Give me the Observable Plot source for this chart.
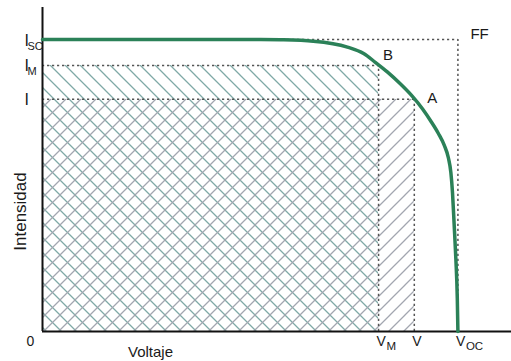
<!DOCTYPE html>
<html><head><meta charset="utf-8">
<script src="https://cdn.jsdelivr.net/npm/d3@7"></script>
<script src="https://cdn.jsdelivr.net/npm/@observablehq/plot@0.6"></script>
<style>body{margin:0;background:#fff}</style>
</head><body><div id="chart"></div>
<script>
// I-V curve of a solar cell (arbitrary units: Voc = 100, Isc = 100)
const curveV = [0, 38, 52.5, 57.3, 65.2, 73.4, 77.3, 80.1, 83.0, 86.0, 89.0, 91.5, 93.5, 95.3, 96.7, 97.7, 98.3, 98.7, 99.1, 99.5, 99.85, 100];
const curveI = [100, 100, 100, 99.9, 99.4, 97.4, 95.2, 92.2, 88.9, 85.0, 80.6, 76.2, 72.0, 67.8, 63.8, 59.5, 54.5, 47.5, 36.5, 25.0, 11.5, 0];
const Voc = 100, Isc = 100;
const VM = 80.9, IM = 91.1;     // max power point B
const Vop = 89.5, Iop = 79.5;   // operating point A
const yTickValues = [Isc, IM, Iop];
const yTickMain = ["I", "I", "I"];
const yTickSub = ["SC", "M", ""];
const xTickValues = [VM, Vop, Voc];
const xTickMain = ["V", "V", "V"];
const xTickSub = ["M", "", "OC"];
const pointNames = ["B", "A", "FF"];
const pointV = [VM, Vop, Voc];
const pointI = [IM, Iop, Isc];

const curve = curveV.map((v, k) => ({v, i: curveI[k]}));
const yTicks = yTickValues.map((y, k) => ({y, main: yTickMain[k], sub: yTickSub[k]}));
const xTicks = xTickValues.map((x, k) => ({x, main: xTickMain[k], sub: xTickSub[k]}));
const pts = pointNames.map((n, k) => ({n, v: pointV[k], i: pointI[k]}));

const dotted = {stroke: "#555", strokeWidth: 1.5, strokeDasharray: "2.2,2.8"};
const txt = "#1a1a1a";

const plot = Plot.plot({
  width: 511, height: 361,
  marginLeft: 42, marginRight: 0, marginTop: 7, marginBottom: 30,
  x: {domain: [0, 112.9], axis: null},
  y: {domain: [0, 110.96], axis: null},
  style: {fontFamily: "'Liberation Sans', Arial, sans-serif", background: "white"},
  marks: [
    Plot.rect([{x1: 0, x2: VM, y1: 0, y2: IM}], {x1: "x1", x2: "x2", y1: "y1", y2: "y2", fill: "url(#hatchBack)"}),
    Plot.rect([{x1: 0, x2: Vop, y1: 0, y2: Iop}], {x1: "x1", x2: "x2", y1: "y1", y2: "y2", fill: "url(#hatchFwd)"}),
    // dashed guides
    Plot.ruleY([Isc], {x1: 0, x2: Voc, ...dotted}),
    Plot.ruleX([Voc], {y1: 0, y2: Isc, ...dotted}),
    Plot.ruleY([IM], {x1: 0, x2: VM, ...dotted}),
    Plot.ruleX([VM], {y1: 0, y2: IM, ...dotted}),
    Plot.ruleY([Iop], {x1: 0, x2: Vop, ...dotted}),
    Plot.ruleX([Vop], {y1: 0, y2: Iop, ...dotted}),
    // axes
    Plot.ruleX([0], {stroke: "#111", strokeWidth: 2}),
    Plot.ruleY([0], {stroke: "#111", strokeWidth: 2}),
    // curve
    Plot.line(curve, {x: "v", y: "i", curve: "monotone-x", stroke: "#2b8158", strokeWidth: 3.5}),
    // y tick labels
    Plot.text(yTicks, {x: 0, y: "y", text: "main", textAnchor: "start", lineAnchor: "bottom", dx: -18, dy: 6, fontSize: 16, fill: txt}),
    Plot.text(yTicks, {x: 0, y: "y", text: "sub", textAnchor: "start", lineAnchor: "bottom", dx: -15, dy: 10, fontSize: 11, fill: txt}),
    // x tick labels
    Plot.text(xTicks, {x: "x", y: 0, text: "main", textAnchor: "start", lineAnchor: "bottom", dx: -2, dy: 14, fontSize: 14, fill: txt}),
    Plot.text(xTicks, {x: "x", y: 0, text: "sub", textAnchor: "start", lineAnchor: "bottom", dx: 8, dy: 18, fontSize: 11.5, fill: txt}),
    Plot.text(["0"], {x: 0, y: 0, textAnchor: "middle", lineAnchor: "bottom", dx: -12, dy: 14, fontSize: 14, fill: txt}),
    // point labels
    Plot.text(pts.filter(d => d.n === "B"), {x: "v", y: "i", text: "n", textAnchor: "start", lineAnchor: "bottom", dx: 4.5, dy: -5, fontSize: 15, fill: txt}),
    Plot.text(pts.filter(d => d.n === "A"), {x: "v", y: "i", text: "n", textAnchor: "start", lineAnchor: "bottom", dx: 13, dy: 4, fontSize: 15, fill: txt}),
    Plot.text(pts.filter(d => d.n === "FF"), {x: "v", y: "i", text: "n", textAnchor: "start", lineAnchor: "bottom", dx: 12.5, dy: -1, fontSize: 15, fill: txt}),
    // axis titles
    Plot.text(["Voltaje"], {frameAnchor: "bottom", textAnchor: "middle", lineAnchor: "bottom", dx: -126.5, dy: 25, fontSize: 15, fill: txt}),
    Plot.text(["Intensidad"], {frameAnchor: "left", rotate: -90, textAnchor: "middle", lineAnchor: "bottom", dx: -17, dy: 42, fontSize: 17, fill: txt})
  ]
});

const defs = d3.select(plot).insert("defs", ":first-child");
const back = defs.append("pattern").attr("id", "hatchBack").attr("patternUnits", "userSpaceOnUse").attr("width", 15).attr("height", 15);
back.append("path").attr("d", "M0,0L15,15M-1,14L1,16M14,-1L16,1").attr("stroke", "#7fa9a6").attr("stroke-width", 1.3).attr("fill", "none");
const fwd = defs.append("pattern").attr("id", "hatchFwd").attr("patternUnits", "userSpaceOnUse").attr("width", 15).attr("height", 15);
fwd.append("path").attr("d", "M0,15L15,0M-1,1L1,-1M14,16L16,14").attr("stroke", "#a3a6b0").attr("stroke-width", 1.3).attr("fill", "none");

document.getElementById("chart").appendChild(plot);
</script>
</body></html>
